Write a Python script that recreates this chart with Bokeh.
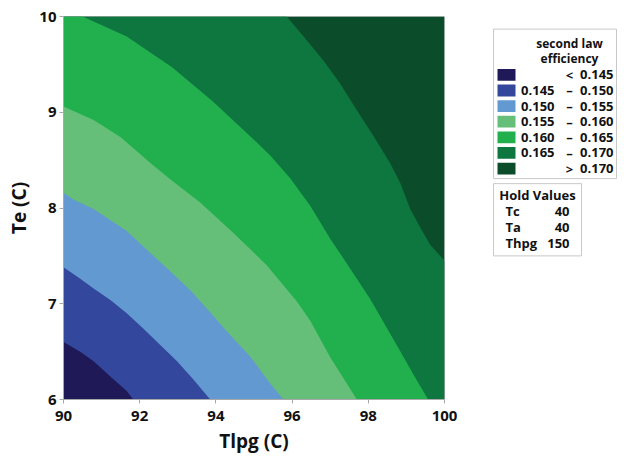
from bokeh.plotting import figure
from bokeh.layouts import row
from bokeh.models import Range1d, FixedTicker
from bokeh.core.properties import value
from bokeh.embed import file_html
from bokeh.resources import INLINE

# Axis extents of the response-surface window
tlpg_lim = (90.0, 100.0)
te_lim = (6.0, 10.0)

# Contour levels of second law efficiency
levels = [0.145, 0.150, 0.155, 0.160, 0.165, 0.170]

# Contour boundary curves (Tlpg, Te) for each level
tlpg_145 = [90.0, 90.44, 90.79, 91.23, 91.66, 91.83]
te_145 = [6.60, 6.50, 6.40, 6.24, 6.09, 6.0]

tlpg_150 = [90.0, 90.44, 90.79, 91.23, 91.66, 92.10, 92.54, 92.98, 93.41, 93.85]
te_150 = [7.38, 7.26, 7.16, 7.04, 6.90, 6.74, 6.57, 6.40, 6.21, 6.0]

tlpg_155 = [90.0, 90.26, 90.79, 91.66, 92.28, 92.80, 93.33, 93.85, 94.29, 94.90, 95.42, 95.77]
te_155 = [8.16, 8.09, 7.99, 7.76, 7.53, 7.34, 7.14, 6.91, 6.71, 6.45, 6.17, 6.0]

tlpg_160 = [90.0, 90.79, 91.50, 92.28, 92.80, 93.58, 94.46, 95.34, 96.13, 96.48, 97.00, 97.70]
te_160 = [9.06, 8.92, 8.74, 8.47, 8.30, 8.06, 7.74, 7.40, 7.02, 6.82, 6.44, 6.0]

tlpg_165 = [90.50, 91.66, 92.85, 93.90, 94.90, 95.42, 95.95, 96.48, 97.00, 97.27,
            98.05, 98.70, 99.20, 99.57]
te_165 = [10.0, 9.79, 9.47, 9.12, 8.75, 8.55, 8.31, 8.02, 7.68, 7.52,
          7.05, 6.60, 6.25, 6.0]

tlpg_170 = [95.86, 96.39, 96.82, 97.26, 97.70, 98.14, 98.57, 98.84, 99.10, 99.36, 99.62, 100.0]
te_170 = [10.0, 9.75, 9.54, 9.30, 9.02, 8.75, 8.47, 8.26, 7.99, 7.80, 7.62, 7.45]

curves = [(tlpg_145, te_145), (tlpg_150, te_150), (tlpg_155, te_155),
          (tlpg_160, te_160), (tlpg_165, te_165), (tlpg_170, te_170)]

# Band colours, from lowest (< 0.145) to highest (> 0.170)
band_colors = ["#1f1a57", "#33479c", "#6399d1", "#66bf79",
               "#22b04f", "#0e763f", "#0b4d2a"]

# Hold values shown beside the plot
hold_names = ["Tc", "Ta", "Thpg"]
hold_values = [40, 40, 150]

FONT_NAME = "Open Sans"
FONT = value(FONT_NAME)
INK = "#111111"
x_lo, x_hi = tlpg_lim
y_lo, y_hi = te_lim


def below_region(xs, ys):
    """Polygon of the area under a boundary curve (towards the low corner)."""
    px, py = list(xs), list(ys)
    if px[-1] >= x_hi:
        px.append(x_hi)
        py.append(y_lo)
    px.append(x_lo)
    py.append(y_lo)
    if py[0] >= y_hi:
        px.append(x_lo)
        py.append(y_hi)
    return px, py


p = figure(width=460, height=456, x_range=Range1d(*tlpg_lim), y_range=Range1d(*te_lim),
           output_backend="svg", toolbar_location=None,
           min_border_left=63, min_border_right=16, min_border_top=16, min_border_bottom=55)

# Highest band fills the whole window, lower bands are layered on top
p.quad(left=[x_lo], right=[x_hi], bottom=[y_lo], top=[y_hi],
       fill_color=band_colors[-1], line_color=None)
xs, ys, cols = [], [], []
for i in range(len(levels) - 1, -1, -1):
    px, py = below_region(*curves[i])
    xs.append(px)
    ys.append(py)
    cols.append(band_colors[i])
p.patches(xs, ys, fill_color=cols, line_color=None)

p.grid.visible = False
p.outline_line_color = "#c8c8c8"
p.xaxis.ticker = FixedTicker(ticks=[90, 92, 94, 96, 98, 100])
p.yaxis.ticker = FixedTicker(ticks=[6, 7, 8, 9, 10])
p.xaxis.axis_label = "Tlpg (C)"
p.yaxis.axis_label = "Te (C)"
for ax in (p.xaxis, p.yaxis):
    ax.axis_line_color = "#a8a8a8"
    ax.major_tick_line_color = "#a8a8a8"
    ax.minor_tick_line_color = None
    ax.major_tick_in = 0
    ax.major_tick_out = 4
    ax.major_label_text_font = FONT_NAME
    ax.major_label_text_font_style = "bold"
    ax.major_label_text_font_size = "15px"
    ax.major_label_text_color = INK
    ax.axis_label_text_font = FONT_NAME
    ax.axis_label_text_font_style = "bold"
    ax.axis_label_text_font_size = "19px"
    ax.axis_label_text_color = INK
p.xaxis.major_label_standoff = 7
p.yaxis.major_label_standoff = 3
p.xaxis.axis_label_standoff = 4
p.yaxis.axis_label_standoff = 4

# Side panel with the colour key and the hold values
leg = figure(width=166, height=456, x_range=Range1d(0, 166), y_range=Range1d(456, 0),
             output_backend="svg", toolbar_location=None,
             min_border=0, min_border_left=0, min_border_right=0,
             min_border_top=0, min_border_bottom=0)
leg.xaxis.visible = False
leg.yaxis.visible = False
leg.grid.visible = False
leg.outline_line_color = None

leg.quad(left=[33], right=[156], top=[15], bottom=[193],
         fill_color="white", line_color="#c8c8c8", line_width=1)
leg.text(x=[109, 109], y=[32, 50], text=["second law", "efficiency"],
         text_align="center", text_baseline="middle", text_font=FONT,
         text_font_style="bold", text_font_size="12px", text_color=INK)

row_y = [69.5 + 18.6 * i for i in range(len(band_colors))]
leg.quad(left=[37] * len(row_y), right=[55] * len(row_y),
         top=[y - 7 for y in row_y], bottom=[y + 7 for y in row_y],
         fill_color=band_colors, line_color=None)

fmt = "{:.3f}".format
lo_txt = [""] + [fmt(v) for v in levels[:-1]] + [""]
mid_txt = ["<"] + ["\u2013"] * (len(levels) - 1) + [">"]
hi_txt = [fmt(v) for v in levels] + [fmt(levels[-1])]
leg.text(x=[94] * len(row_y), y=row_y, text=lo_txt, text_align="right",
         text_baseline="middle", text_font=FONT, text_font_size="13px",
         text_font_style="bold", text_color=INK)
leg.text(x=[109] * len(row_y), y=row_y, text=mid_txt, text_align="center",
         text_baseline="middle", text_font=FONT, text_font_size="13px",
         text_font_style="bold", text_color=INK)
leg.text(x=[153] * len(row_y), y=row_y, text=hi_txt, text_align="right",
         text_baseline="middle", text_font=FONT, text_font_size="13px",
         text_font_style="bold", text_color=INK)

leg.quad(left=[33], right=[121], top=[199], bottom=[285],
         fill_color="white", line_color="#c8c8c8", line_width=1)
leg.text(x=[77], y=[213], text=["Hold Values"], text_align="center",
         text_baseline="middle", text_font=FONT, text_font_style="bold",
         text_font_size="13px", text_color=INK)
hold_y = [232, 251, 270]
leg.text(x=[45] * 3, y=hold_y, text=hold_names, text_align="left",
         text_baseline="middle", text_font=FONT, text_font_style="bold",
         text_font_size="13px", text_color=INK)
leg.text(x=[109] * 3, y=hold_y, text=[str(v) for v in hold_values], text_align="right",
         text_baseline="middle", text_font=FONT, text_font_style="bold",
         text_font_size="13px", text_color=INK)

layout = row(p, leg, spacing=0)
open("out.html", "w").write(file_html(layout, INLINE))
